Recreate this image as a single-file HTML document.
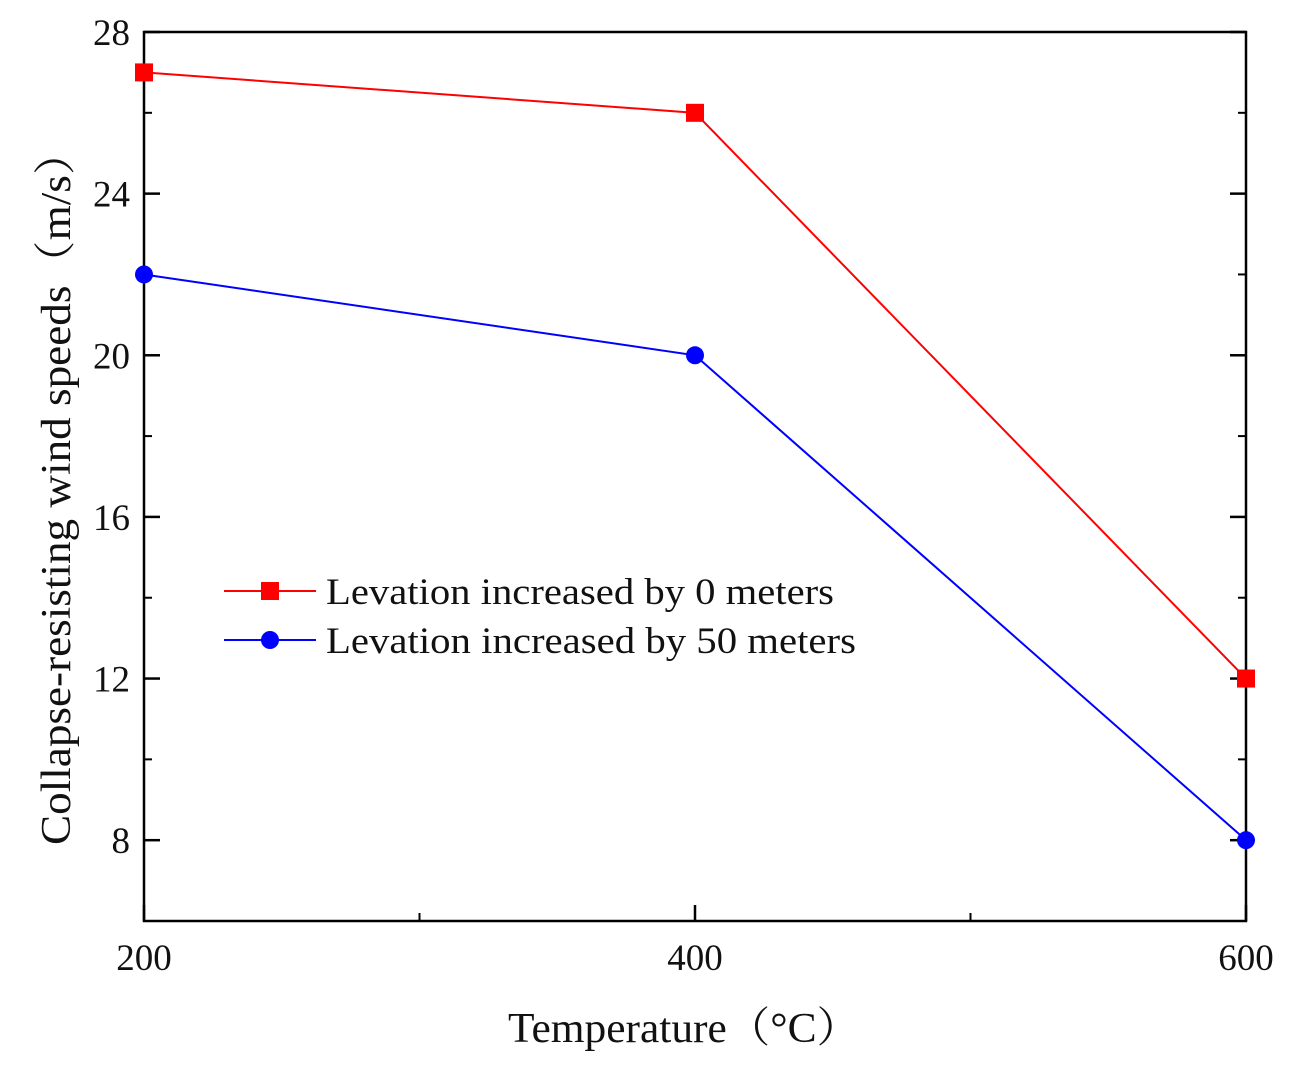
<!DOCTYPE html>
<html><head><meta charset="utf-8"><style>
body{margin:0;background:#fff}
svg text{font-family:"Liberation Serif","Noto Serif CJK SC",serif;fill:#111}
</style></head><body>
<svg width="1300" height="1074" xmlns="http://www.w3.org/2000/svg">
<g id="g"></g>
</svg>
<script>
const xCats=[200,400,600];
const s0=[27,26,12];
const s1=[22,20,8];
const yTicks=[8,12,16,20,24,28];
const yMinor=[10,14,18,22,26];
const xMinor=[300,500];
const L=144,R=1246,T=32,B=921;
const X=v=>L+(v-200)/400*(R-L);
const Y=v=>B-(v-6)/22*(B-T);
const g=document.getElementById('g');
const NS='http://www.w3.org/2000/svg';
function mk(t,a,txt){const e=document.createElementNS(NS,t);for(const k in a)e.setAttribute(k,a[k]);if(txt!=null)e.textContent=txt;g.appendChild(e);return e;}
let e=mk('rect',{x:L,y:T,width:R-L,height:B-T,fill:'none',stroke:'#000','stroke-width':2.5});


yTicks.forEach(v=>{
 let a=mk('line',{x1:L,x2:L+16,y1:Y(v),y2:Y(v),stroke:'#000','stroke-width':2.5});
 
 
 let b=mk('line',{x1:R,x2:R-16,y1:Y(v),y2:Y(v),stroke:'#000','stroke-width':2.5});
 
 
 let t=mk('text',{x:L-14,y:Y(v)+13,'font-size':37,'text-anchor':'end'},v);
 
 
});
yMinor.forEach(v=>{
 let a=mk('line',{x1:L,x2:L+8,y1:Y(v),y2:Y(v),stroke:'#000','stroke-width':2});
 
 
 let b=mk('line',{x1:R,x2:R-8,y1:Y(v),y2:Y(v),stroke:'#000','stroke-width':2});
 
 
});
xCats.forEach(v=>{
 let a=mk('line',{x1:X(v),x2:X(v),y1:B,y2:B-16,stroke:'#000','stroke-width':2.5});
 
 
 let t=mk('text',{x:X(v),y:970,'font-size':37,'text-anchor':'middle'},v);
 
 
});
xMinor.forEach(v=>{
 let a=mk('line',{x1:X(v),x2:X(v),y1:B,y2:B-8,stroke:'#000','stroke-width':2});
 
 
});
function series(d,col,sq,name){
 let p=mk('polyline',{points:d.map((v,i)=>X(xCats[i])+','+Y(v)).join(' '),fill:'none',stroke:col,'stroke-width':2});
 
 
 d.forEach((v,i)=>{
  let m=sq?mk('rect',{x:X(xCats[i])-9,y:Y(v)-9,width:18,height:18,fill:col}):mk('circle',{cx:X(xCats[i]),cy:Y(v),r:9,fill:col});
  
  
 });
}
series(s0,'#ff0000',true,'series-0m');
series(s1,'#0000ff',false,'series-50m');
[['#ff0000',true,'Levation increased by 0 meters',591,508],['#0000ff',false,'Levation increased by 50 meters',640,530]].forEach(([c,sq,txt,y,w])=>{
 let l=mk('line',{x1:224,x2:316,y1:y,y2:y,stroke:c,'stroke-width':2});
 
 
 let m=sq?mk('rect',{x:261,y:y-9,width:18,height:18,fill:c}):mk('circle',{cx:270,cy:y,r:9,fill:c});
 
 
 let t=mk('text',{x:326,y:y+13,'font-size':37,textLength:w,lengthAdjust:'spacingAndGlyphs'},txt);
 
 
});
let xt=mk('text',{x:508,y:1042,'font-size':42,textLength:352,lengthAdjust:'spacingAndGlyphs'},'Temperature（°C）');


let yt=mk('text',{x:0,y:0,'font-size':42,textLength:715,lengthAdjust:'spacingAndGlyphs',transform:'translate(70,845) rotate(-90)'},'Collapse-resisting wind speeds（m/s）');


</script>
</body></html>
